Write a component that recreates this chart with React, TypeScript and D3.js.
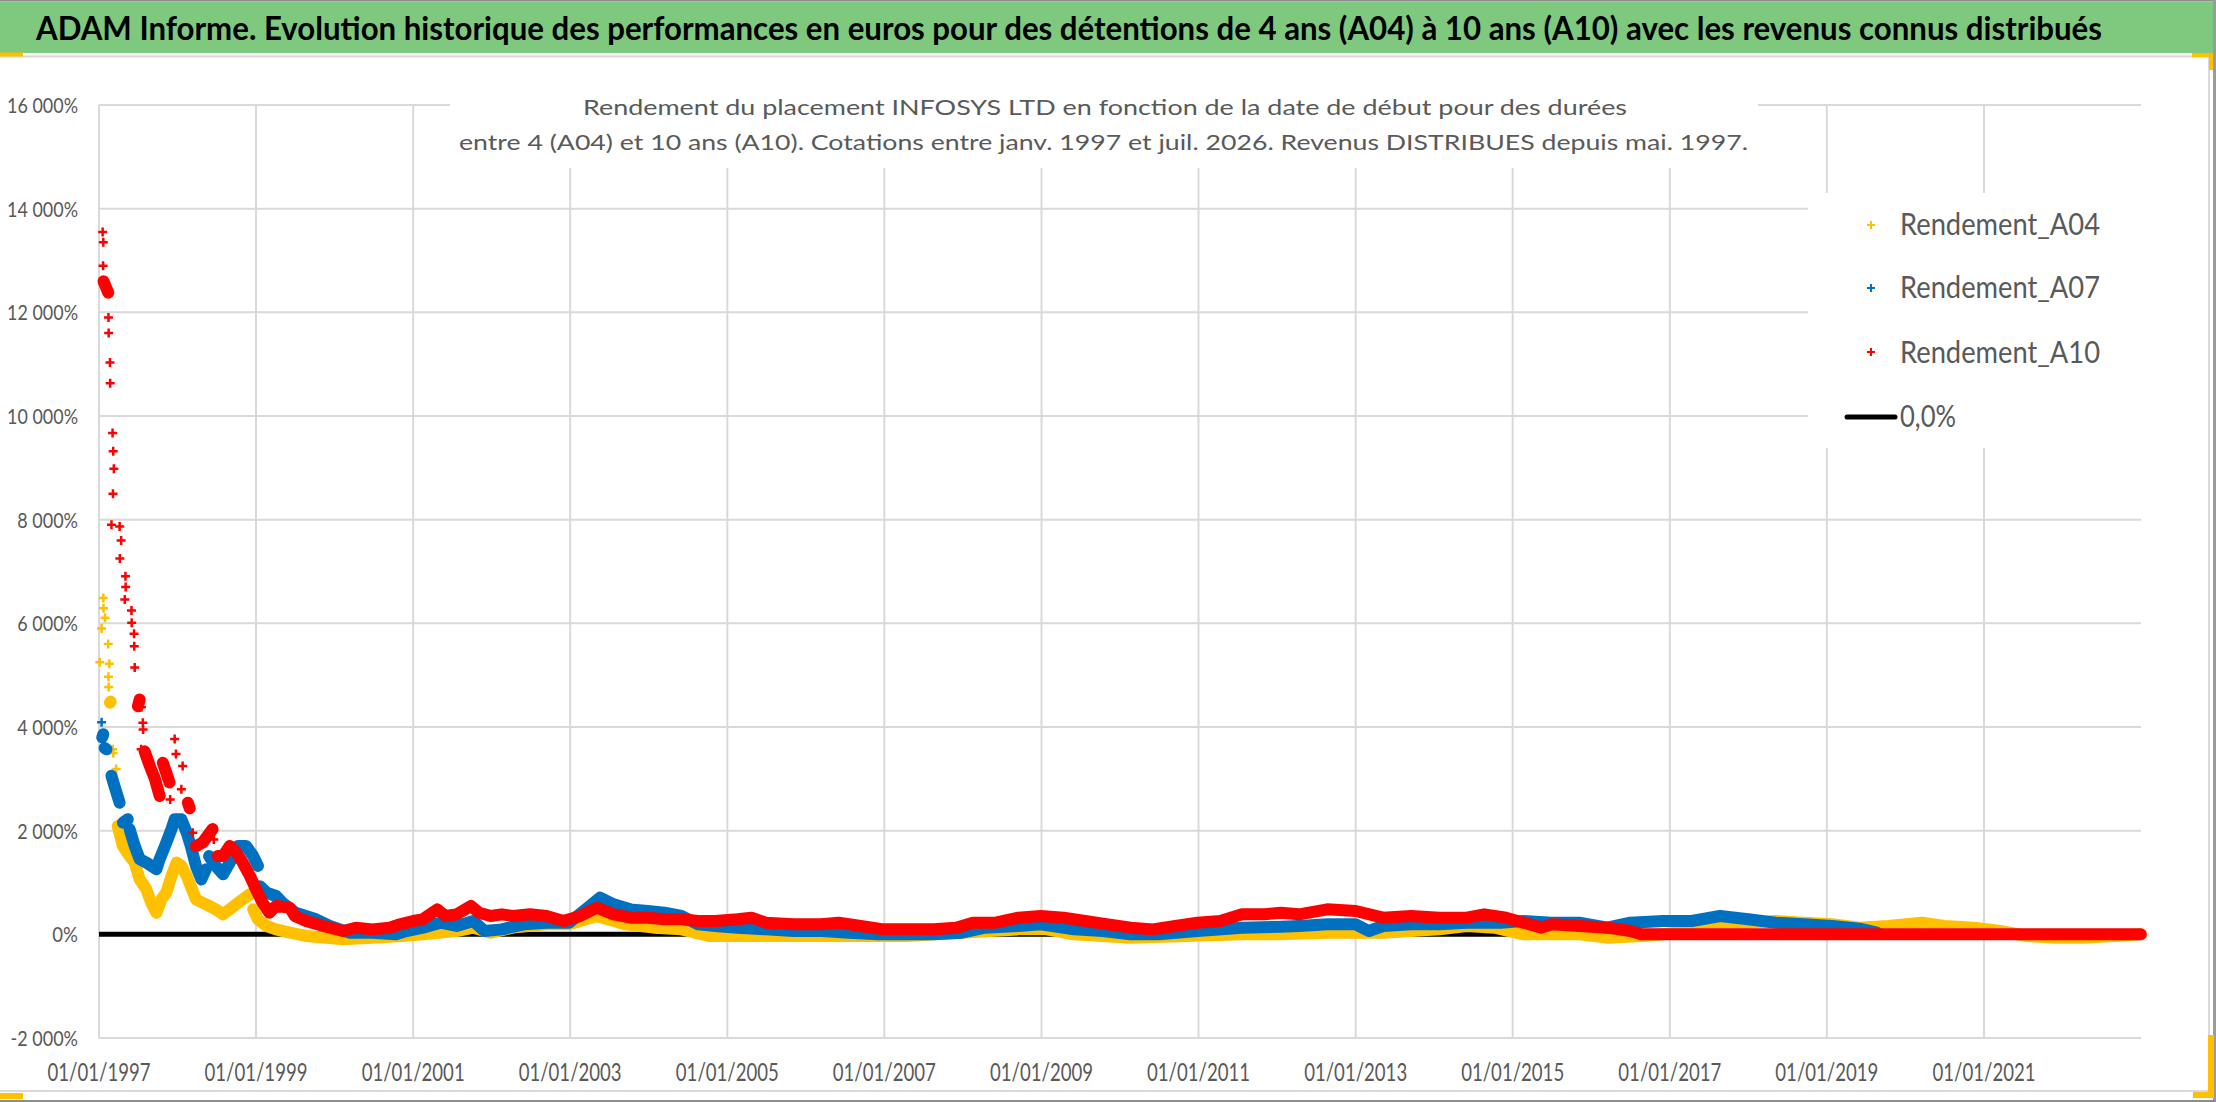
import React from "react";
import * as d3 from "d3";

// ---------- TEXTS ----------
const TITLE =
  "ADAM Informe. Evolution historique des performances en euros pour des détentions de 4 ans (A04) à 10 ans (A10) avec les revenus connus distribués";
const SUBTITLE_LINES = [
  "Rendement du placement INFOSYS LTD en fonction de la date de début pour des durées",
  "entre 4 (A04) et 10 ans (A10). Cotations entre janv. 1997 et juil. 2026. Revenus DISTRIBUES depuis mai. 1997.",
];
const SERIES_NAMES = ["Rendement_A04", "Rendement_A07", "Rendement_A10", "0,0%"];

// ---------- AXES ----------
const X_DOMAIN = ["1997-01-01", "2023-01-01"];
const X_TICKS = [
  "1997-01-01", "1999-01-01", "2001-01-01", "2003-01-01", "2005-01-01", "2007-01-01", "2009-01-01",
  "2011-01-01", "2013-01-01", "2015-01-01", "2017-01-01", "2019-01-01", "2021-01-01",
];
const Y_DOMAIN = [-2000, 16000];
const Y_TICKS = [-2000, 0, 2000, 4000, 6000, 8000, 10000, 12000, 14000, 16000];

// ---------- DATA (rendement en %) ----------
const A04_DATES = [
  "1997-01-05", "1997-01-13", "1997-01-21", "1997-01-22", "1997-01-29", "1997-02-13", "1997-02-14", "1997-02-15",
  "1997-02-18", "1997-02-21", "1997-02-24", "1997-03-06", "1997-03-08", "1997-03-22", "1997-03-29", "1997-04-22",
  "1997-05-23", "1997-06-16", "1997-07-09", "1997-08-09", "1997-09-01", "1997-09-25", "1997-10-18", "1997-11-10",
  "1997-12-04", "1997-12-28", "1998-01-19", "1998-02-13", "1998-03-04", "1998-03-28", "1998-04-28", "1998-05-28",
  "1998-06-28", "1998-08-01", "1998-09-01", "1998-10-01", "1998-11-01", "1998-12-04", "1998-12-19", "1999-01-10",
  "1999-02-19", "1999-04-04", "1999-06-07", "1999-08-22", "1999-11-10", "2000-02-09", "2000-06-25", "2000-11-13",
  "2001-02-15", "2001-07-22", "2001-10-08", "2001-12-28", "2002-04-10", "2002-09-13", "2002-12-28", "2003-05-05",
  "2003-09-13", "2004-01-25", "2004-06-01", "2004-10-08", "2005-02-17", "2005-11-06", "2006-07-22", "2007-04-13",
  "2007-12-28", "2008-05-08", "2008-09-16", "2009-01-25", "2009-06-02", "2010-02-20", "2010-11-06", "2011-07-22",
  "2012-01-01", "2012-08-22", "2013-01-01", "2013-05-08", "2013-09-16", "2014-01-25", "2014-06-02", "2014-10-08",
  "2015-02-20", "2015-07-01", "2015-11-06", "2016-03-17", "2016-08-22", "2016-12-01", "2017-04-13", "2017-08-22",
  "2018-01-01", "2018-05-08", "2018-09-16", "2019-01-25", "2019-06-02", "2019-10-13", "2020-03-17", "2020-07-01",
  "2020-11-13", "2021-03-17", "2021-07-22", "2021-12-01", "2022-04-13", "2022-08-22", "2022-12-31",
];
const A04_VALUES = [
  5250, 5900, 6490, 6290, 6110, 5600, 4970, 4770,
  5220, 4470, 4490, 3570, 3500, 3190, 2090, 1705,
  1510, 1385, 1060, 870, 610, 418, 676, 805,
  1125, 1385, 1320, 1125, 930, 676, 610, 548,
  483, 386, 483, 580, 676, 773, 483, 290,
  161, 96, 32, -32, -64, -96, -64, -32,
  0, 64, 129, 32, 129, 193, 193, 354,
  193, 129, 96, -32, -32, -32, -32, -32,
  32, 64, 96, 96, 0, -64, -32, 0,
  0, 32, 32, 32, 64, 96, 161, 129,
  0, 0, 0, -64, -32, 0, 64, 161,
  225, 257, 225, 193, 129, 161, 225, 161,
  129, 64, -32, -64, -64, -32, 0,
];

const A07_DATES = [
  "1997-01-13", "1997-01-16", "1997-01-21", "1997-01-27", "1997-02-05", "1997-02-28", "1997-03-14", "1997-04-07",
  "1997-04-22", "1997-05-15", "1997-05-23", "1997-06-16", "1997-07-09", "1997-08-09", "1997-09-25", "1997-10-10",
  "1997-11-04", "1997-12-04", "1997-12-19", "1998-01-19", "1998-02-13", "1998-03-04", "1998-03-28", "1998-04-22",
  "1998-05-13", "1998-05-28", "1998-06-28", "1998-08-01", "1998-09-01", "1998-10-10", "1998-11-16", "1998-12-19",
  "1999-01-10", "1999-01-19", "1999-02-19", "1999-04-04", "1999-05-04", "1999-07-04", "1999-10-07", "1999-12-10",
  "2000-03-10", "2000-06-25", "2000-10-13", "2000-12-01", "2001-02-15", "2001-05-08", "2001-07-22", "2001-10-08",
  "2001-11-28", "2002-02-17", "2002-06-01", "2002-09-13", "2002-12-28", "2003-03-14", "2003-05-20", "2003-07-22",
  "2003-10-08", "2003-12-28", "2004-03-14", "2004-06-01", "2004-08-18", "2004-11-06", "2005-02-17", "2005-06-28",
  "2005-11-06", "2006-03-14", "2006-07-22", "2006-12-01", "2007-04-13", "2007-08-18", "2007-12-28", "2008-04-13",
  "2008-09-16", "2008-12-28", "2009-06-02", "2009-10-13", "2010-02-20", "2010-06-28", "2010-12-28", "2011-07-22",
  "2012-01-18", "2012-04-13", "2012-08-22", "2013-01-01", "2013-03-03", "2013-05-08", "2013-09-16", "2014-01-25",
  "2014-06-02", "2014-11-06", "2015-02-20", "2015-07-01", "2015-11-06", "2016-03-17", "2016-07-01", "2016-12-01",
  "2017-04-13", "2017-08-22", "2018-01-01", "2018-05-08", "2018-09-16", "2019-01-25", "2019-06-02", "2019-08-22",
];
const A07_VALUES = [
  4090, 3800, 3860, 3595, 3570, 3060, 2860, 2540,
  2155, 2220, 2030, 1705, 1450, 1385, 1255, 1450,
  1705, 2030, 2220, 2220, 1960, 1705, 1320, 1060,
  1255, 1510, 1320, 1160, 1385, 1705, 1705, 1510,
  1320, 930, 805, 740, 610, 418, 290, 161,
  32, 32, 0, 64, 129, 225, 161, 257,
  64, 96, 193, 225, 225, 482, 707, 579,
  482, 450, 418, 354, 193, 161, 129, 96,
  64, 64, 32, 0, 0, 0, 32, 129,
  161, 193, 96, 64, 0, 0, 64, 129,
  145, 161, 193, 193, 64, 161, 193, 193,
  225, 225, 257, 225, 225, 129, 225, 257,
  257, 354, 290, 225, 193, 161, 109, 32,
];

const A10_DATES = [
  "1997-01-18", "1997-01-20", "1997-01-21", "1997-01-22", "1997-02-13", "1997-02-14", "1997-02-15", "1997-02-21",
  "1997-02-22", "1997-02-28", "1997-03-05", "1997-03-07", "1997-03-08", "1997-03-11", "1997-04-07", "1997-04-08",
  "1997-04-14", "1997-05-01", "1997-05-04", "1997-05-05", "1997-06-01", "1997-06-02", "1997-06-13", "1997-06-14",
  "1997-06-16", "1997-07-01", "1997-07-09", "1997-07-16", "1997-07-17", "1997-07-24", "1997-07-25", "1997-08-01",
  "1997-08-25", "1997-09-18", "1997-10-10", "1997-10-25", "1997-11-25", "1997-11-28", "1997-12-19", "1997-12-25",
  "1998-01-19", "1998-01-25", "1998-02-18", "1998-02-27", "1998-03-13", "1998-03-28", "1998-04-28", "1998-06-13",
  "1998-06-19", "1998-07-07", "1998-08-01", "1998-09-01", "1998-10-01", "1998-11-01", "1998-12-04", "1999-01-01",
  "1999-02-01", "1999-03-04", "1999-04-04", "1999-06-07", "1999-07-01", "1999-08-22", "1999-11-10", "2000-02-09",
  "2000-04-10", "2000-06-25", "2000-09-13", "2000-11-01", "2001-01-01", "2001-02-15", "2001-04-23", "2001-05-30",
  "2001-07-22", "2001-09-27", "2001-11-03", "2001-12-28", "2002-02-17", "2002-04-10", "2002-06-28", "2002-09-13",
  "2002-12-01", "2003-02-17", "2003-05-05", "2003-07-22", "2003-10-10", "2003-12-28", "2004-03-14", "2004-06-01",
  "2004-08-18", "2004-11-06", "2005-02-17", "2005-04-23", "2005-06-28", "2005-11-06", "2006-03-14", "2006-06-02",
  "2006-09-13", "2006-12-28", "2007-04-13", "2007-08-18", "2007-12-01", "2008-02-17", "2008-06-02", "2008-09-16",
  "2008-12-28", "2009-04-13", "2009-07-22", "2009-11-06", "2010-02-20", "2010-06-02", "2010-09-16", "2010-12-28",
  "2011-04-13", "2011-07-22", "2011-11-06", "2012-01-18", "2012-04-13", "2012-08-22", "2013-01-01", "2013-05-08",
  "2013-09-16", "2014-01-25", "2014-06-02", "2014-08-22", "2014-12-01", "2015-02-20", "2015-05-15", "2015-07-01",
  "2015-11-06", "2016-03-17", "2016-07-01", "2016-08-22", "2017-01-01", "2017-07-01", "2018-01-01", "2018-07-01",
  "2019-01-01", "2019-07-01", "2020-01-01", "2020-07-01", "2021-01-01", "2021-07-01", "2022-01-01", "2022-07-01",
  "2022-12-31",
];
const A10_VALUES = [
  13550, 12900, 13350, 12600, 12380, 11900, 11600, 11030,
  10630, 7900, 9670, 8500, 9320, 8980, 7870, 7250,
  7600, 6460, 6910, 6700, 6250, 6010, 5800, 5560,
  5150, 4400, 4530, 3570, 4380, 4080, 3950, 3530,
  3250, 3000, 2670, 3310, 2930, 2600, 3770, 3480,
  2800, 3250, 2540, 2430, 1960, 1700, 1770, 2030,
  1830, 1510, 1510, 1705, 1580, 1380, 1125, 870,
  610, 418, 548, 515, 354, 258, 161, 64,
  128, 96, 128, 193, 257, 290, 482, 354,
  386, 547, 418, 354, 386, 354, 386, 354,
  257, 354, 514, 386, 321, 321, 290, 290,
  257, 257, 290, 321, 225, 193, 193, 225,
  161, 96, 96, 96, 129, 225, 225, 321,
  354, 321, 257, 193, 129, 96, 161, 225,
  257, 386, 386, 418, 386, 482, 450, 321,
  354, 321, 321, 386, 321, 225, 129, 193,
  161, 129, 64, 0, 0, 0, 0, 0,
  0, 0, 0, 0, 0, 0, 0, 0,
  0,
];

const ZERO_DATES = ["1997-01-01", "2023-01-01"];
const ZERO_VALUES = [0, 0];

// ---------- LAYOUT / STYLE ----------
const W = 2216;
const H = 1102;
const PLOT = { left: 99, right: 2141, top: 105, bottom: 1038 };
const FONT = "Lato, 'Open Sans', 'DejaVu Sans', sans-serif";
const GREY_TEXT = "#595959";
const GRID = "#d9d9d9";
const COLORS = ["#FFC000", "#0070C0", "#FF0000"];

const parse = d3.timeParse("%Y-%m-%d");
const frLocale = d3.formatLocale({
  decimal: ",",
  thousands: " ",
  grouping: [3],
  currency: ["", " €"],
  minus: "-",
});
const fmtY = (v: number) => frLocale.format(",.0f")(v) + "%";
const fmtX = d3.timeFormat("%d/%m/%Y");

const yLabelWidth = (s: string) =>
  Array.from(s).reduce(
    (w, c) => w + (c === "%" ? 15.5 : c === " " ? 4.4 : c === "-" ? 6.7 : 10.2),
    0
  );

// split a series into runs of neighbouring points (dense band), leaving isolated jumps as single crosses
function segments(pts: [number, number][], maxDy = 26, maxDx = 60) {
  const segs: [number, number][][] = [];
  let cur: [number, number][] = [];
  pts.forEach((p, i) => {
    if (i > 0) {
      const q = pts[i - 1];
      const dx = Math.abs(p[0] - q[0]);
      const dy = Math.abs(p[1] - q[1]);
      if (dy > maxDy || dx > maxDx || dy > 4 * dx) {
        if (cur.length > 1) segs.push(cur);
        cur = [];
      }
    }
    cur.push(p);
  });
  if (cur.length > 1) segs.push(cur);
  return segs;
}

const crossPath = (pts: [number, number][], r = 4.5) =>
  pts.map(([px, py]) => `M${px - r},${py}H${px + r}M${px},${py - r}V${py + r}`).join("");

export default function App() {
  const x = d3
    .scaleTime()
    .domain(X_DOMAIN.map((d) => parse(d) as Date))
    .range([PLOT.left, PLOT.right]);
  const y = d3.scaleLinear().domain(Y_DOMAIN).range([PLOT.bottom, PLOT.top]);
  const line = d3.line<[number, number]>().x((d) => d[0]).y((d) => d[1]);

  const series = [
    { dates: A04_DATES, values: A04_VALUES, color: COLORS[0] },
    { dates: A07_DATES, values: A07_VALUES, color: COLORS[1] },
    { dates: A10_DATES, values: A10_VALUES, color: COLORS[2] },
  ].map((s) => ({
    ...s,
    pts: s.dates.map((d, i) => [x(parse(d) as Date), y(s.values[i])] as [number, number]),
  }));

  const zeroPts = ZERO_DATES.map((d, i) => [x(parse(d) as Date), y(ZERO_VALUES[i])] as [number, number]);

  const legendRows = [
    { label: SERIES_NAMES[0], color: COLORS[0], cy: 225, base: 235 },
    { label: SERIES_NAMES[1], color: COLORS[1], cy: 288, base: 298 },
    { label: SERIES_NAMES[2], color: COLORS[2], cy: 352, base: 363 },
  ];

  return (
    <svg
      width={W}
      height={H}
      viewBox={`0 0 ${W} ${H}`}
      style={{ position: "absolute", left: 0, top: 0, display: "block", background: "#fff" }}
      fontFamily={FONT}
    >
      <rect x={0} y={0} width={W} height={H} fill="#ffffff" />

      {/* banner */}
      <rect x={0} y={0} width={W} height={1.5} fill="#8c8c8c" />
      <rect x={0} y={1.5} width={2213} height={51.5} fill="#7ec97e" />
      <rect x={2213} y={0} width={3} height={H} fill="#9a9a9a" />
      <text
        x={36}
        y={40}
        fontSize={32}
        fontWeight="bold"
        fill="#000"
        textLength={2066}
        lengthAdjust="spacingAndGlyphs"
      >
        {TITLE}
      </text>

      {/* chart frame */}
      <line x1={0} x2={2209} y1={56.5} y2={56.5} stroke={GRID} strokeWidth={2} />
      <line x1={2209} x2={2209} y1={56} y2={1091} stroke={GRID} strokeWidth={2} />
      <line x1={0} x2={2209} y1={1091} y2={1091} stroke={GRID} strokeWidth={2} />
      <rect x={0} y={1100} width={W} height={2} fill="#8c8c8c" />

      {/* selection handles */}
      <rect x={0} y={52.5} width={23} height={4} fill="#FFC000" />
      <rect x={2192} y={53} width={21} height={4} fill="#FFC000" />
      <rect x={2209} y={53} width={4} height={17} fill="#FFC000" />
      <rect x={0} y={1093} width={23} height={6} fill="#FFC000" />
      <rect x={2193} y={1092} width={21} height={6} fill="#FFC000" />
      <rect x={2208} y={1035} width={6} height={63} fill="#FFC000" />

      {/* gridlines */}
      <g stroke={GRID} strokeWidth={2}>
        {Y_TICKS.map((t) => (
          <line key={"gy" + t} x1={PLOT.left} x2={PLOT.right} y1={y(t)} y2={y(t)} />
        ))}
        {X_TICKS.map((t) => {
          const xx = x(parse(t) as Date);
          return <line key={"gx" + t} x1={xx} x2={xx} y1={PLOT.top} y2={PLOT.bottom} />;
        })}
      </g>

      {/* y labels */}
      <g fontSize={22} fill={GREY_TEXT} textAnchor="end">
        {Y_TICKS.map((t) => {
          const s = fmtY(t);
          return (
            <text
              key={"ly" + t}
              x={78}
              y={y(t) + 8}
              textLength={yLabelWidth(s)}
              lengthAdjust="spacingAndGlyphs"
            >
              {s}
            </text>
          );
        })}
      </g>

      {/* x labels */}
      <g fontSize={25} fill={GREY_TEXT} textAnchor="middle">
        {X_TICKS.map((t) => (
          <text
            key={"lx" + t}
            x={x(parse(t) as Date)}
            y={1081}
            textLength={103}
            lengthAdjust="spacingAndGlyphs"
          >
            {fmtX(parse(t) as Date)}
          </text>
        ))}
      </g>

      {/* zero line series */}
      <path d={line(zeroPts) || ""} stroke="#000" strokeWidth={5} fill="none" />

      {/* scatter series */}
      {series.map((s, si) => (
        <g key={"s" + si}>
          {segments(s.pts).map((seg, k) => (
            <path
              key={k}
              d={line(seg) || ""}
              stroke={s.color}
              strokeWidth={12}
              fill="none"
              strokeLinecap="round"
              strokeLinejoin="round"
            />
          ))}
          <path d={crossPath(s.pts)} stroke={s.color} strokeWidth={2.5} fill="none" />
        </g>
      ))}

      {/* subtitle */}
      <rect x={450} y={62} width={1308} height={106} fill="#fff" />
      <g fontSize={22} fill={GREY_TEXT} textAnchor="middle">
        <text x={1105} y={115} textLength={1044} lengthAdjust="spacingAndGlyphs">
          {SUBTITLE_LINES[0]}
        </text>
        <text x={1103.5} y={150} textLength={1289} lengthAdjust="spacingAndGlyphs">
          {SUBTITLE_LINES[1]}
        </text>
      </g>

      {/* legend */}
      <rect x={1808} y={193} width={333} height={255} fill="#fff" />
      <g fontSize={30} fill={GREY_TEXT}>
        {legendRows.map((r) => (
          <g key={r.label}>
            <path d={crossPath([[1871, r.cy]], 4)} stroke={r.color} strokeWidth={2} fill="none" />
            <text x={1900} y={r.base} textLength={200} lengthAdjust="spacingAndGlyphs">
              {r.label}
            </text>
          </g>
        ))}
        <line x1={1847} x2={1895} y1={417} y2={417} stroke="#000" strokeWidth={5} strokeLinecap="round" />
        <text x={1900} y={427} textLength={56} lengthAdjust="spacingAndGlyphs">
          {SERIES_NAMES[3]}
        </text>
      </g>
    </svg>
  );
}
